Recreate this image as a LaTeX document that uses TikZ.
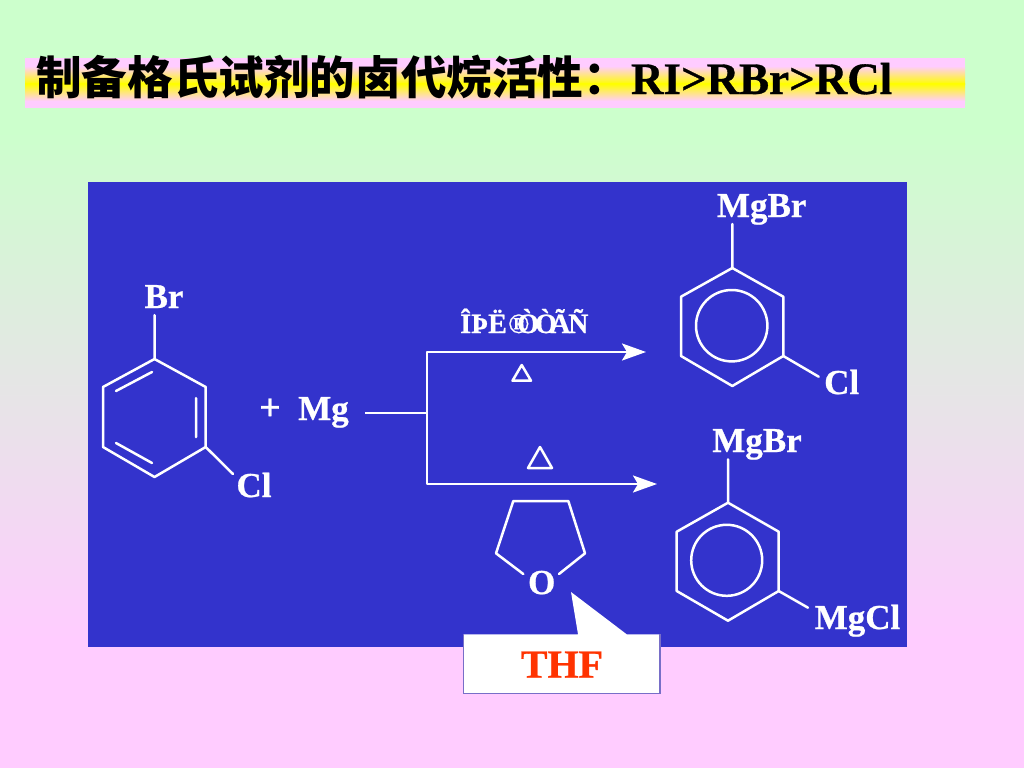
\documentclass[tikz,border=0pt]{standalone}
\usepackage{fontspec}
\setmainfont[BoldFeatures={FakeBold=0.7}]{Liberation Serif}
\newfontfamily\cjk{Noto Sans CJK SC}
\usetikzlibrary{arrows.meta}
\definecolor{panelblue}{RGB}{51,51,204}
\definecolor{bgtop}{RGB}{204,255,204}
\definecolor{bgbot}{RGB}{255,204,255}
\definecolor{thfred}{RGB}{255,51,0}
\definecolor{thfedge}{RGB}{120,110,200}
\newcommand{\gl}[2]{\makebox[#1pt][l]{#2}}
\tikzset{
  bond/.style={draw=white,line width=2.5pt,line join=round,line cap=round},
  chem/.style={text=white,font=\bfseries\fontsize{35}{35}\selectfont,anchor=base,inner sep=0pt},
  rxn/.style={draw=white,line width=2.5pt,line join=round},
  rxnarrow/.style={rxn,-{Stealth[length=24pt,width=17pt,inset=5pt]}},
}
\begin{document}
\begin{tikzpicture}[x=1pt,y=-1pt]
\useasboundingbox (0,0) rectangle (1024,768);
\fill[bgtop] (0,0) rectangle (1024,131);
\shade[top color=bgtop,bottom color=bgbot] (0,130) rectangle (1024,640);
\fill[bgbot] (0,639) rectangle (1024,768);
\fill[bgbot] (25,58) rectangle (965,108);
\shade[top color=bgbot,bottom color=yellow] (25,66) rectangle (965,84);
\shade[top color=yellow,bottom color=bgbot] (25,83.8) rectangle (965,101);
\node[anchor=base west,inner sep=0pt,font=\fontsize{45}{45}\selectfont] (title) at (36,94)
  {{\cjk\bfseries\fontsize{45.6}{45}\selectfont 制备格氏试剂的卤代烷活性：}\hspace{2pt}\textbf{RI>RBr>RCl}};
\fill[panelblue] (88,182) rectangle (907,647);
% left ring
\coordinate (a1) at (154.5,359); \coordinate (a2) at (205.7,387); \coordinate (a3) at (205.7,447);
\coordinate (a4) at (154.5,477); \coordinate (a5) at (103,447); \coordinate (a6) at (103,387);
\draw[bond] (a1)--(a2)--(a3)--(a4)--(a5)--(a6)--cycle;
\draw[bond] (196,398)--(196,437) (116,391)--(152,372) (116,443)--(152,463);
\coordinate (aBr) at (154.5,315); \coordinate (aCl) at (233,474);
\draw[bond] (a1)--(aBr) (a3)--(aCl);
\node[chem] (lBr) at (164,308) {Br};
\node[chem] (lCl) at (254,497) {Cl};
\node[chem,font=\bfseries\fontsize{38}{38}\selectfont] (plus) at (270,420) {+};
\node[chem] (mg) at (323.5,420) {Mg};
% reaction lines
\coordinate (j0) at (365,413); \coordinate (j1) at (427,413);
\coordinate (jt) at (427,352); \coordinate (jb) at (427,484);
\coordinate (et) at (646,352); \coordinate (eb) at (657,484);
\draw[rxn] (j0)--(j1);
\draw[rxnarrow] (j1)--(jt)--(et);
\draw[rxnarrow] (j1)--(jb)--(eb);
\node[anchor=base west,inner sep=0pt,text=white,font=\bfseries\fontsize{28}{28}\selectfont] (solv) at (460,333)
  {\gl{11}{Î}\gl{17}{Þ}\gl{20}{Ë}\gl{9}{®}\gl{18}{Ò}\gl{15}{Ò}\gl{18}{Ã}Ñ};
\draw[bond] (521.7,365)--(512.5,380.7)--(531,380.7)--cycle;
\draw[bond] (540,447)--(528,468)--(552,468)--cycle;
% THF ring
\coordinate (t1) at (523.3,574); \coordinate (t2) at (496,553.3); \coordinate (t3) at (513.3,501);
\coordinate (t4) at (568.3,501); \coordinate (t5) at (585,553.3); \coordinate (t6) at (559,574);
\draw[bond] (t1)--(t2)--(t3)--(t4)--(t5)--(t6);
\node[chem] (lO) at (541.7,594) {O};
% top product
\coordinate (b1) at (732.3,268); \coordinate (b2) at (783.3,296.7); \coordinate (b3) at (783.3,356);
\coordinate (b4) at (732.3,386); \coordinate (b5) at (681,356); \coordinate (b6) at (681,296.7);
\draw[bond] (b1)--(b2)--(b3)--(b4)--(b5)--(b6)--cycle;
\draw[bond] (731.7,325.7) circle (35.7);
\coordinate (bMg) at (732.3,224); \coordinate (bCl) at (818.7,376.7);
\draw[bond] (b1)--(bMg) (b3)--(bCl);
\node[chem] (lMgBr1) at (761.7,217) {MgBr};
\node[chem] (lCl2) at (841.7,394) {Cl};
% bottom product
\coordinate (c1) at (728,502.7); \coordinate (c2) at (778.7,531.7); \coordinate (c3) at (778.7,591);
\coordinate (c4) at (728,620.7); \coordinate (c5) at (676.7,591); \coordinate (c6) at (676.7,531.7);
\draw[bond] (c1)--(c2)--(c3)--(c4)--(c5)--(c6)--cycle;
\draw[bond] (726.7,560.3) circle (35.5);
\coordinate (cMg) at (728,459.3); \coordinate (cCl) at (808,607.7);
\draw[bond] (c1)--(cMg) (c3)--(cCl);
\node[chem] (lMgBr2) at (757,452) {MgBr};
\node[chem] (lMgCl) at (857.5,629) {MgCl};
% callout
\fill[white] (463.7,634.3)--(578,634.3)--(571,592)--(626.7,634.3)--(660,634.3)--(660,693.5)--(463.7,693.5)--cycle;
\draw[thfedge,line width=1.2pt] (463.7,634.3)--(463.7,693.5)--(660,693.5)--(660,634.3);
\node[anchor=base,inner sep=0pt,text=thfred,font=\bfseries\fontsize{40}{40}\selectfont] (thf) at (562,677.7) {THF};
\end{tikzpicture}
\end{document}
